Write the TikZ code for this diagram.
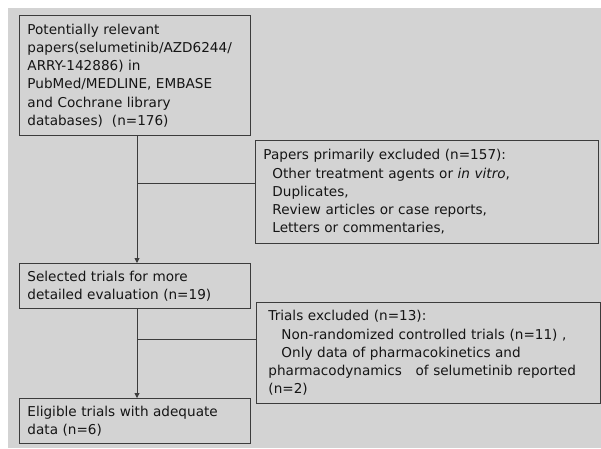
\documentclass[tikz,border=0pt]{standalone}
\usepackage{fontspec}
\setmainfont{DejaVu Sans}
\usepackage{xcolor}
\usepackage{tikz}
\usetikzlibrary{arrows.meta, calc, positioning}

\definecolor{bgGray}{HTML}{D3D3D3}
\definecolor{lineGray}{HTML}{3C3C3C}
\definecolor{txtGray}{HTML}{151515}

\tikzset{
    flowbox/.style={draw=lineGray, line width=0.9pt, anchor=north west, align=left,
        inner xsep=8pt, inner ysep=0pt, text=txtGray,
        font=\fontsize{13.6}{18.2}\selectfont},
    flowline/.style={draw=lineGray, line width=0.9pt},
    flowarrow/.style={flowline, -{Triangle[length=5pt,width=5pt]}}
}

\begin{document}
\begin{tikzpicture}[x=1pt, y=-1pt]
    \useasboundingbox (0,0) rectangle (601,448);
    \fill[bgGray] (8,8) rectangle (601,448);

    % Main boxes (left column)
    \node[flowbox, text width=215pt, minimum height=120pt] (search) at (19,15)
        {Potentially relevant\\papers(selumetinib/AZD6244/\\ARRY-142886) in\\PubMed/MEDLINE, EMBASE\\and Cochrane library\\databases)\ \ (n=176)};
    \node[flowbox, text width=215pt, minimum height=45pt] (selected) at (19,263)
        {Selected trials for more\\detailed evaluation (n=19)};
    \node[flowbox, text width=215pt, minimum height=45pt] (eligible) at (19,398)
        {Eligible trials with adequate\\data (n=6)};

    % Exclusion boxes (right column)
    \node[flowbox, text width=327pt, minimum height=103pt] (excl1) at (255,140)
        {Papers primarily excluded (n=157):\\
         \hspace*{9pt}Other treatment agents or \textit{in vitro},\\
         \hspace*{9pt}Duplicates,\\
         \hspace*{9pt}Review articles or case reports,\\
         \hspace*{9pt}Letters or commentaries,};
    \node[flowbox, inner xsep=12pt, text width=320pt, minimum height=101pt] (excl2) at (256,302)
        {Trials excluded (n=13):\\
         \hspace*{13pt}Non-randomized controlled trials (n=11) ,\\
         \hspace*{13pt}Only data of pharmacokinetics and\\
         pharmacodynamics\ \ \ of selumetinib reported\\
         (n=2)};

    % Trunk and branches
    \coordinate (split1) at (137,183);
    \coordinate (split2) at (137,339);
    \draw[flowarrow] (split1 |- search.south) -- (split1 |- selected.north);
    \draw[flowline] (split1) -- (split1 -| excl1.west);
    \draw[flowarrow] (split2 |- selected.south) -- (split2 |- eligible.north);
    \draw[flowline] (split2) -- (split2 -| excl2.west);
\end{tikzpicture}
\end{document}
